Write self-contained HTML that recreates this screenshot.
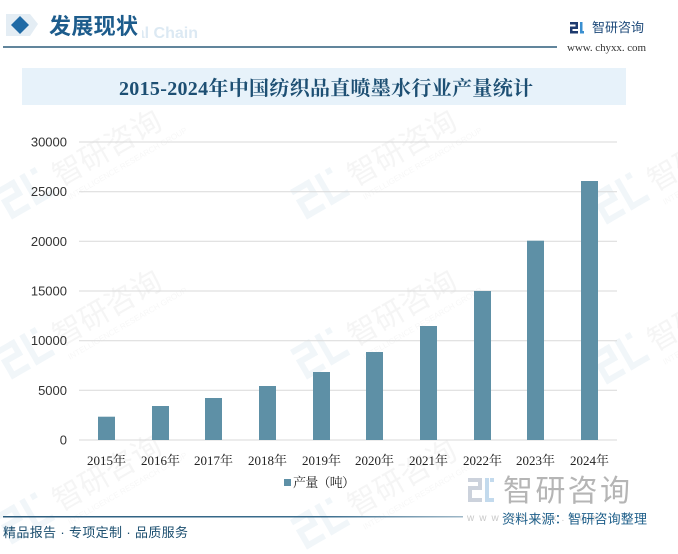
<!DOCTYPE html>
<html>
<head>
<meta charset="utf-8">
<style>
  html,body{margin:0;padding:0;background:#fff;}
  body{width:678px;height:554px;overflow:hidden;}
  svg{display:block;}
  .sans{font-family:"Liberation Sans","Noto Sans CJK SC",sans-serif;}
  .serif{font-family:"Liberation Serif","Noto Serif CJK SC",serif;}
</style>
</head>
<body>
<svg width="678" height="554" viewBox="0 0 678 554" xmlns="http://www.w3.org/2000/svg">
  <defs>
    <linearGradient id="fl" x1="0" x2="1" y1="0" y2="0">
      <stop offset="0" stop-color="#2a5b7c"/>
      <stop offset="0.7" stop-color="#3d6f8f"/>
      <stop offset="1" stop-color="#9fb8c8"/>
    </linearGradient>
    <g id="wm">
      <g fill="#e8f0f6">
        <rect x="0" y="0" width="22" height="6"/>
        <rect x="16" y="0" width="6" height="18"/>
        <rect x="0" y="12" width="22" height="6"/>
        <rect x="0" y="12" width="6" height="22"/>
        <rect x="0" y="28" width="22" height="6"/>
        <rect x="28" y="0" width="6" height="34"/>
        <rect x="28" y="28" width="22" height="6"/>
        <rect x="40" y="0" width="6" height="6"/>
      </g>
      <text x="58" y="30" class="sans" font-size="30" fill="#efefef">智研咨询</text>
      <text x="60" y="46" class="sans" font-size="8" fill="#f2f2f2">INTELLIGENCE RESEARCH GROUP</text>
    </g>
  </defs>

  <!-- background watermarks -->
  <g opacity="0.6">
    <use href="#wm" transform="translate(-5,190) rotate(-30)"/>
    <use href="#wm" transform="translate(290,190) rotate(-30)"/>
    <use href="#wm" transform="translate(590,195) rotate(-30)"/>
    <use href="#wm" transform="translate(-5,350) rotate(-30)"/>
    <use href="#wm" transform="translate(290,350) rotate(-30)"/>
    <use href="#wm" transform="translate(590,355) rotate(-30)"/>
    <use href="#wm" transform="translate(-5,515) rotate(-30)"/>
    <use href="#wm" transform="translate(290,520) rotate(-30)"/>
  </g>

  <!-- header -->
  <polygon points="6,14 30,14 38,24 30,36 6,36" fill="#e4edf4"/>
  <text x="198" y="38" text-anchor="end" class="sans" font-size="16" font-weight="bold" fill="#dce9f3">Industrial Chain</text>
  <rect x="46" y="12" width="96" height="28" fill="#fff"/>
  <polygon points="20,16 29,25 20,34 11,25" fill="#1f6aa5"/>
  <text x="49" y="34" class="sans" font-size="22" font-weight="bold" fill="#1d5c8c" textLength="89">发展现状</text>
  <line x1="3" y1="47" x2="557" y2="47" stroke="#2d5d7b" stroke-width="1.5"/>

  <!-- top-right logo -->
  <g>
    <rect x="570" y="22" width="8" height="2.5" fill="#1e3a6e"/>
    <rect x="575.5" y="22" width="2.5" height="6" fill="#1e3a6e"/>
    <rect x="570" y="26.5" width="8" height="2.5" fill="#1e3a6e"/>
    <rect x="570" y="26.5" width="2.5" height="7" fill="#1e3a6e"/>
    <rect x="570" y="31" width="8" height="2.5" fill="#1e3a6e"/>
    <rect x="580" y="22" width="2.5" height="11.5" fill="#3a8fd0"/>
    <rect x="580" y="31" width="4" height="2.5" fill="#3a8fd0"/>
  </g>
  <text x="592" y="32" class="sans" font-size="13" fill="#1e4a7a" textLength="52">智研咨询</text>
  <text x="567" y="51" class="serif" font-size="11" fill="#333" textLength="79">www. chyxx. com</text>

  <!-- title bar -->
  <rect x="22" y="68" width="604" height="37" fill="#e7f2fa"/>
  <text x="119" y="95" class="serif" font-size="20" font-weight="bold" fill="#1d4f73" textLength="414">2015-2024年中国纺织品直喷墨水行业产量统计</text>

  <!-- gridlines -->
  <g stroke="#d9d9d9" stroke-width="1">
    <line x1="79" y1="142" x2="617" y2="142"/>
    <line x1="79" y1="191.7" x2="617" y2="191.7"/>
    <line x1="79" y1="241.3" x2="617" y2="241.3"/>
    <line x1="79" y1="291" x2="617" y2="291"/>
    <line x1="79" y1="340.7" x2="617" y2="340.7"/>
    <line x1="79" y1="390.3" x2="617" y2="390.3"/>
    <line x1="79" y1="440" x2="617" y2="440"/>
  </g>

  <!-- y labels -->
  <g class="sans" font-size="13" fill="#333" text-anchor="end">
    <text x="67" y="146.5">30000</text>
    <text x="67" y="196">25000</text>
    <text x="67" y="246">20000</text>
    <text x="67" y="295.5">15000</text>
    <text x="67" y="345">10000</text>
    <text x="67" y="395">5000</text>
    <text x="67" y="444.5">0</text>
  </g>

  <!-- bars -->
  <g fill="#5e90a6">
    <rect x="98" y="416.7" width="17" height="23.3"/>
    <rect x="152" y="406" width="17" height="34"/>
    <rect x="205" y="398" width="17" height="42"/>
    <rect x="259" y="386" width="17" height="54"/>
    <rect x="313" y="372" width="17" height="68"/>
    <rect x="366" y="352" width="17" height="88"/>
    <rect x="420" y="326" width="17" height="114"/>
    <rect x="474" y="291" width="17" height="149"/>
    <rect x="527" y="240.7" width="17" height="199.3"/>
    <rect x="581" y="181" width="17" height="259"/>
  </g>

  <!-- x labels -->
  <g class="serif" font-size="13" fill="#222" text-anchor="middle">
    <text x="106.5" y="465">2015年</text>
    <text x="160.5" y="465">2016年</text>
    <text x="213.5" y="465">2017年</text>
    <text x="267.5" y="465">2018年</text>
    <text x="321.5" y="465">2019年</text>
    <text x="374.5" y="465">2020年</text>
    <text x="428.5" y="465">2021年</text>
    <text x="482.5" y="465">2022年</text>
    <text x="535.5" y="465">2023年</text>
    <text x="589.5" y="465">2024年</text>
  </g>

  <!-- legend -->
  <rect x="284" y="479" width="7" height="7" fill="#5e90a6"/>
  <text x="293" y="487" class="serif" font-size="13" fill="#222" textLength="62">产量（吨）</text>

  <!-- bottom-right big logo watermark -->
  <g opacity="0.85">
    <g fill="#c3cbd6">
      <rect x="468" y="478" width="14" height="4"/>
      <rect x="478" y="478" width="4" height="12"/>
      <rect x="468" y="486" width="14" height="4"/>
      <rect x="468" y="486" width="4" height="16"/>
      <rect x="468" y="498" width="14" height="4"/>
    </g>
    <g fill="#b9d4ea">
      <rect x="485" y="478" width="4" height="24"/>
      <rect x="485" y="498" width="9" height="4"/>
      <rect x="490" y="478" width="4" height="4"/>
    </g>
    <text x="503" y="501" class="sans" font-size="30" fill="#a9a9a9" textLength="127">智研咨询</text>
    <text x="467" y="521" class="sans" font-size="10" fill="#c0c0c0" letter-spacing="5">www.chyxx.com</text>
  </g>

  <!-- footer -->
  <rect x="3" y="516" width="460" height="1.5" fill="url(#fl)"/>
  <text x="502" y="523.5" class="sans" font-size="13" fill="#1e5f8a" textLength="145">资料来源：智研咨询整理</text>
  <text x="3" y="537" class="sans" font-size="13" fill="#1a4d6e" textLength="185">精品报告 · 专项定制 · 品质服务</text>
</svg>
</body>
</html>
